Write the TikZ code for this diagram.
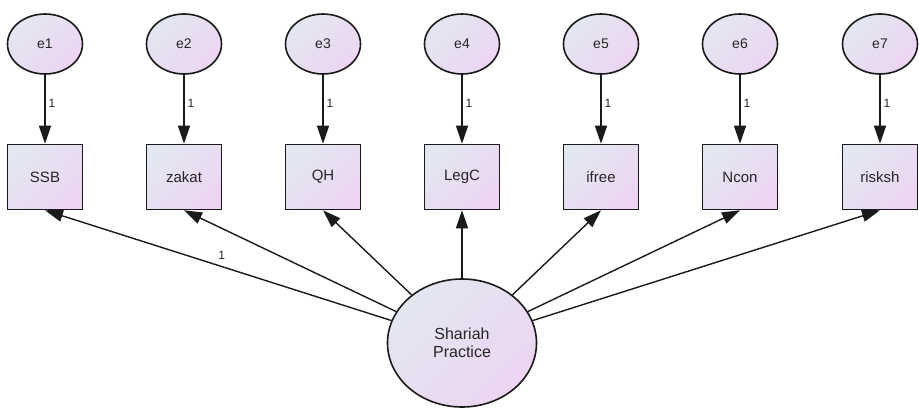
\documentclass[tikz,border=0pt]{standalone}
\usepackage{fontspec}
\setmainfont{Liberation Sans}
\usetikzlibrary{arrows.meta, shapes.geometric}
\definecolor{shadetop}{HTML}{E3E7F1}
\definecolor{shadebot}{HTML}{EDD5F2}
\definecolor{edge}{HTML}{1A1A1A}

\begin{document}
\begin{tikzpicture}[x=1pt, y=-1pt,
  errnode/.style={
    ellipse, draw=edge, line width=1.6pt,
    top color=shadetop, bottom color=shadebot, shading angle=45,
    minimum width=75pt, minimum height=60pt, inner sep=0pt,
    font=\fontsize{14}{16}\selectfont, text=black!85
  },
  obsbox/.style={
    rectangle, draw=edge, line width=1.6pt,
    top color=shadetop, bottom color=shadebot, shading angle=45,
    minimum width=75pt, minimum height=65pt, inner sep=0pt,
    font=\fontsize{15}{17}\selectfont, text=black!85
  },
  latent/.style={
    ellipse, draw=edge, line width=1.6pt,
    top color=shadetop, bottom color=shadebot, shading angle=45,
    minimum width=149pt, minimum height=128pt, inner sep=0pt,
    align=center, font=\fontsize{16}{18}\selectfont, text=black!85
  },
  path/.style={-{Triangle[length=18pt, width=12pt]}, line width=1.4pt, draw=edge},
  wlab/.style={font=\fontsize{12}{14}\selectfont, inner sep=1pt, text=black!85},
]
\useasboundingbox (0,0) rectangle (919,410);
% indicators and their error terms
\foreach \x/\n [count=\i] in {45/SSB, 184/zakat, 323/QH, 462/LegC,
                              601/ifree, 740/Ncon, 880/risksh} {
  \node[errnode] (e\i) at (\x, 44) {e\i};
  \node[obsbox]  (o\i) at (\x, 177) {\n};
  \draw[path] (e\i) -- node[wlab, right=2pt, pos=0.41]{1} (o\i);
}
% latent factor
\node[latent] (sp) at (462, 343) {Shariah\\Practice};
\draw[path] (sp) -- node[wlab, above=5pt, pos=0.49]{1} (o1.south);
\foreach \i in {2,...,7} {
  \draw[path] (sp) -- (o\i.south);
}
\end{tikzpicture}
\end{document}
